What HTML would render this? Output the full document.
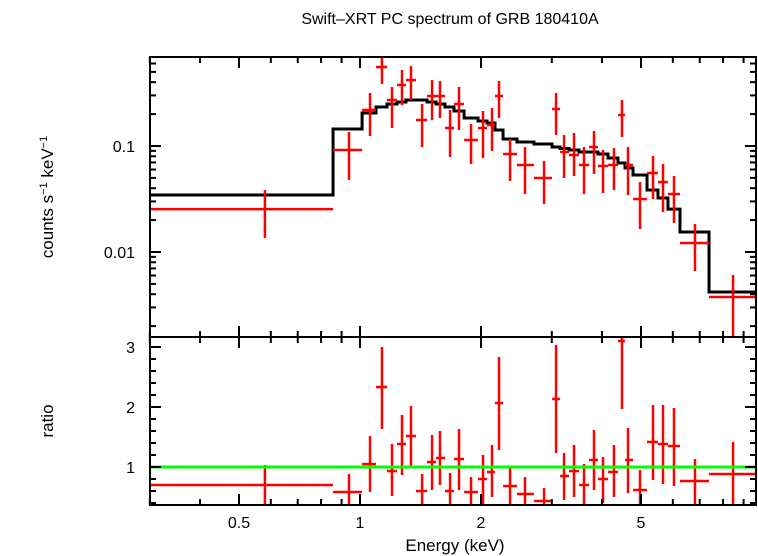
<!DOCTYPE html>
<html><head><meta charset="utf-8"><style>
html,body{margin:0;padding:0;background:#fff}
svg{display:block;font-family:"Liberation Sans",sans-serif}
</style></head><body>
<svg id="chart" width="758" height="556" viewBox="0 0 758 556" xmlns="http://www.w3.org/2000/svg">
<text x="450" y="24" font-size="16" text-anchor="middle">Swift–XRT PC spectrum of GRB 180410A</text>
<text transform="translate(53,197) rotate(-90)" font-size="17" text-anchor="middle">counts s<tspan font-size="11" dy="-6">−1</tspan><tspan dy="6"> keV</tspan><tspan font-size="11" dy="-6">−1</tspan></text>
<text transform="translate(53,421) rotate(-90)" font-size="17" text-anchor="middle">ratio</text>
<text x="455" y="551" font-size="17" text-anchor="middle">Energy (keV)</text>
<g id="g"></g>
</svg>
<script>
const eCenter=[0.580,0.939,1.059,1.134,1.201,1.272,1.339,1.427,1.511,1.581,1.675,1.763,1.889,2.023,2.130,2.217,2.362,2.573,2.870,3.074,3.218,3.407,3.608,3.820,4.022,4.283,4.484,4.642,4.972,5.357,5.672,6.040,6.812,8.473];
const eEdges=[0.300,0.857,1.012,1.096,1.167,1.236,1.301,1.378,1.468,1.546,1.627,1.713,1.815,1.966,2.070,2.167,2.269,2.458,2.708,3.004,3.146,3.311,3.506,3.713,3.909,4.140,4.383,4.563,4.777,5.176,5.511,5.836,6.252,7.383,9.663];
const counts=[0.0254,0.0917,0.2186,0.556,0.2716,0.376,0.419,0.176,0.2963,0.2963,0.1479,0.249,0.1139,0.1479,0.1578,0.2963,0.084,0.0662,0.0499,0.2234,0.0878,0.0822,0.0662,0.0978,0.0648,0.0662,0.196,0.0662,0.0316,0.0556,0.0457,0.0352,0.01216,0.00376];
const countsHi=[0.0385,0.1355,0.316,0.722,0.360,0.521,0.568,0.249,0.419,0.410,0.2186,0.360,0.1613,0.2139,0.2284,0.410,0.1164,0.0978,0.0722,0.316,0.127,0.1326,0.0978,0.1385,0.0917,0.0957,0.2716,0.0978,0.0457,0.0805,0.0677,0.0521,0.01837,0.00607];
const countsLo=[0.01355,0.0478,0.1242,0.3845,0.1479,0.2437,0.2716,0.0978,0.176,0.1837,0.0788,0.1416,0.0677,0.077,0.0897,0.1837,0.0468,0.0352,0.0284,0.127,0.0499,0.0521,0.0352,0.0544,0.036,0.0385,0.1216,0.0345,0.0165,0.0316,0.0238,0.0188,0.00662,0.0012];
const model=[0.0345,0.1447,0.2048,0.2333,0.249,0.260,0.2716,0.2716,0.260,0.249,0.2333,0.2139,0.1837,0.1721,0.1648,0.1416,0.1164,0.1091,0.1044,0.0978,0.0947,0.0917,0.0878,0.0878,0.0840,0.0770,0.0691,0.0620,0.0533,0.0385,0.0323,0.0254,0.01544,0.00419];
const ratio=[0.70,0.583,1.05,2.333,0.933,1.383,1.517,0.6,1.083,1.15,0.6,1.133,0.583,0.8,0.917,2.067,0.683,0.55,0.433,2.133,0.85,0.933,0.7,1.117,0.8,0.917,3.1,1.117,0.617,1.417,1.383,1.35,0.767,0.883];
const ratioHi=[1.033,0.883,1.517,3.0,1.383,1.867,2.017,0.883,1.533,1.6,0.9,1.633,0.833,1.2,1.367,2.833,1.0,0.833,0.65,3.033,1.233,1.367,1.05,1.617,1.167,1.367,3.45,1.65,0.95,2.033,2.033,1.983,1.133,1.417];
const ratioLo=[0.3,0.3,0.583,1.633,0.517,0.867,0.983,0.3,0.617,0.7,0.3,0.617,0.3,0.3,0.5,1.283,0.3,0.3,0.3,1.233,0.45,0.5,0.3,0.617,0.4,0.5,1.967,0.567,0.3,0.783,0.717,0.683,0.3,0.3];
const xMajor=[0.5,1,2,5];
const xMajorLabels=["0.5","1","2","5"];
const xMinor=[0.3,0.4,0.6,0.7,0.8,0.9,3,4,6,7,8,9];
const yTopMajor=[0.01,0.1];
const yTopLabels=["0.01","0.1"];
const yTopMinor=[0.002,0.003,0.004,0.005,0.006,0.007,0.008,0.009,0.02,0.03,0.04,0.05,0.06,0.07,0.08,0.09,0.2,0.3,0.4,0.5,0.6];
const yBotMajor=[1,2,3];
const yBotLabels=["1","2","3"];
const yBotMinor=[0.4,0.6,0.8,1.2,1.4,1.6,1.8,2.2,2.4,2.6,2.8];

const L=150,R=756,T=57,M=337,B=505;
const xs=e=>360+402*Math.log10(e);
const yt=c=>146-106*Math.log10(c/0.1);
const yb=r=>467-60*(r-1);
const NS="http://www.w3.org/2000/svg";
const g=document.getElementById('g');
function mk(tag,attrs,parent){const el=document.createElementNS(NS,tag);for(const k in attrs)el.setAttribute(k,attrs[k]);(parent||g).appendChild(el);return el;}
const defs=mk('defs',{});
const c1=mk('clipPath',{id:'ct'},defs);mk('rect',{x:L,y:T,width:R-L,height:M-T},c1);
const c2=mk('clipPath',{id:'cb'},defs);mk('rect',{x:L,y:M,width:R-L,height:B-M},c2);

const topG=mk('g',{'clip-path':'url(#ct)'});


let d='';
for(let i=0;i<model.length;i++){const y=yt(model[i]);d+=(i===0?'M':'L')+xs(eEdges[i])+','+y+' L'+xs(eEdges[i+1])+','+y+' ';}
const mp=mk('path',{d:d,fill:'none',stroke:'#000','stroke-width':3},topG);


for(let i=0;i<counts.length;i++){
 const p=mk('g',{stroke:'#f00','stroke-width':2.5},topG);
 
 
 const x=xs(eCenter[i]),y=yt(counts[i]);
 mk('line',{x1:xs(eEdges[i]),x2:xs(eEdges[i+1]),y1:y,y2:y},p);
 mk('line',{x1:x,x2:x,y1:yt(countsHi[i]),y2:yt(countsLo[i])},p);
}
const botG=mk('g',{'clip-path':'url(#cb)'});


for(let i=0;i<ratio.length;i++){
 const p=mk('g',{stroke:'#f00','stroke-width':2.5},botG);
 
 
 const x=xs(eCenter[i]),y=yb(ratio[i]);
 mk('line',{x1:xs(eEdges[i]),x2:xs(eEdges[i+1]),y1:y,y2:y},p);
 mk('line',{x1:x,x2:x,y1:yb(ratioHi[i]),y2:yb(ratioLo[i])},p);
}
const gl=mk('line',{x1:L,x2:R,y1:yb(1),y2:yb(1),stroke:'#0f0','stroke-width':3},botG);



const fr=mk('g',{fill:'none',stroke:'#000','stroke-width':2});


mk('rect',{x:L,y:T,width:R-L,height:M-T},fr);
mk('rect',{x:L,y:M,width:R-L,height:B-M},fr);
function xt(e,len){const x=xs(e);
 mk('line',{x1:x,x2:x,y1:T,y2:T+len},fr);mk('line',{x1:x,x2:x,y1:M,y2:M-len},fr);
 mk('line',{x1:x,x2:x,y1:M,y2:M+len},fr);mk('line',{x1:x,x2:x,y1:B,y2:B-len},fr);}
xMajor.forEach(e=>xt(e,11));xMinor.forEach(e=>xt(e,6));
function ytk(y,len){mk('line',{x1:L,x2:L+len,y1:y,y2:y},fr);mk('line',{x1:R,x2:R-len,y1:y,y2:y},fr);}
yTopMajor.forEach(v=>ytk(yt(v),11));yTopMinor.forEach(v=>ytk(yt(v),6));
yBotMajor.forEach(v=>ytk(yb(v),11));yBotMinor.forEach(v=>ytk(yb(v),6));
xMajor.forEach((e,i)=>{const t=mk('text',{x:xs(e),y:528,'font-size':16,'text-anchor':'middle'});t.textContent=xMajorLabels[i];
 
 });
yTopMajor.forEach((v,i)=>{const t=mk('text',{x:135,y:yt(v)+6,'font-size':16,'text-anchor':'end'});t.textContent=yTopLabels[i];
 
 });
yBotMajor.forEach((v,i)=>{const t=mk('text',{x:135,y:yb(v)+6,'font-size':16,'text-anchor':'end'});t.textContent=yBotLabels[i];
 
 });
</script>
</body></html>
